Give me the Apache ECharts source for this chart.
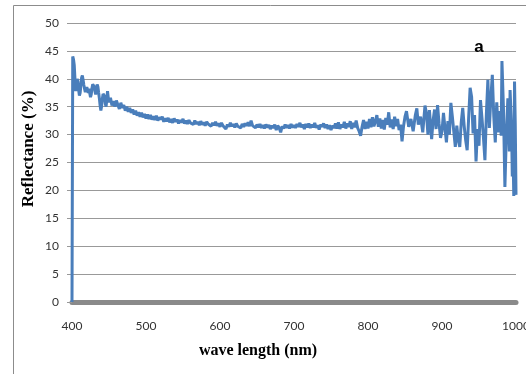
<!DOCTYPE html>
<html>
<head>
<meta charset="utf-8">
<script src="https://cdn.jsdelivr.net/npm/echarts@6/dist/echarts.min.js"></script>
<style>html,body{margin:0;padding:0;background:#fff;}#c{width:526px;height:374px;}</style>
</head>
<body>
<div id="c"></div>
<script>
var yTicks = [0, 5, 10, 15, 20, 25, 30, 35, 40, 45, 50];
var xTicks = [400, 500, 600, 700, 800, 900, 1000];
var xTitle = 'wave length (nm)';
var yTitle = 'Reflectance (%)';
var panelLabel = 'a';

// 400-449 nm, 1 nm steps
var wavelengthA = [
400,401,402,403,404,405,406,407,408,409,
410,411,412,413,414,415,416,417,418,419,
420,421,422,423,424,425,426,427,428,429,
430,431,432,433,434,435,436,437,438,439,
440,441,442,443,444,445,446,447,448,449
];
var reflectanceA = [
0,44,43.5,42.5,40,37.8,38.5,40,39.5,38,
37,37.5,38.8,40.2,40.6,39.8,38.9,38.2,37.6,37.8,
38.5,38.2,37.5,38.2,37.4,36.7,37.2,38.3,39,39.3,
38.6,37.8,37.2,38.1,39,38.6,37.5,36.5,35.2,34.3,
35.1,36.4,37.3,37.6,36.9,35.6,35,36.2,37.8,36.6
];

// 450-850 nm, 2 nm steps
var wavelengthB = [
450,452,454,456,458,460,462,464,466,468,470,472,474,476,478,480,482,484,486,488,490,492,494,496,498,500,
502,504,506,508,510,512,514,516,518,520,522,524,526,528,530,532,534,536,538,540,542,544,546,548,550,
552,554,556,558,560,562,564,566,568,570,572,574,576,578,580,582,584,586,588,590,592,594,596,598,600,
602,604,606,608,610,612,614,616,618,620,622,624,626,628,630,632,634,636,638,640,642,644,646,648,650,
652,654,656,658,660,662,664,666,668,670,672,674,676,678,680,682,684,686,688,690,692,694,696,698,700,
702,704,706,708,710,712,714,716,718,720,722,724,726,728,730,732,734,736,738,740,742,744,746,748,750,
752,754,756,758,760,762,764,766,768,770,772,774,776,778,780,782,784,786,788,790,792,794,796,798,800,
802,804,806,808,810,812,814,816,818,820,822,824,826,828,830,832,834,836,838,840,842,844,846,848,850
];
var reflectanceB = [
35.8,36.6,35.2,36.0,35.0,36.1,35.3,34.6,35.7,34.8,35.3,34.3,35.0,34.1,34.8,33.9,34.5,33.6,34.3,33.4,34.0,33.2,33.9,33.1,33.7,32.9,
33.6,32.8,33.5,32.7,33.3,32.6,33.4,32.5,33.1,32.7,33.2,32.3,32.9,32.4,33.0,32.2,32.8,32.1,32.9,32.3,32.7,32.0,32.6,32.2,32.8,
32.0,32.5,31.9,32.6,32.1,32.4,31.8,32.5,31.9,32.3,31.7,32.4,31.8,32.2,31.6,32.3,31.9,32.2,31.5,32.1,31.7,32.3,31.6,32.0,31.4,
32.1,31.6,31.9,31.0,31.8,31.4,32.1,31.5,31.9,31.3,32.0,31.5,31.8,31.2,31.9,31.4,32.0,31.6,32.2,31.5,32.5,31.6,31.9,31.2,31.8,
31.3,31.9,31.2,31.7,31.1,31.8,31.3,31.7,31.0,31.6,31.2,31.8,30.8,31.6,31.2,30.4,31.5,31.1,31.8,31.2,31.7,31.1,31.9,31.3,31.7,
31.2,31.9,31.4,32.1,31.3,31.8,31.0,31.9,31.3,32.0,31.2,31.8,31.3,32.1,31.2,31.7,30.9,31.8,31.4,32.0,31.2,31.8,31.0,31.7,30.8,
31.6,31.2,32.0,31.1,32.2,31.0,31.8,31.3,32.3,31.1,32.0,31.4,32.4,31.0,32.1,31.3,32.5,31.2,30.6,29.8,31.4,32.6,31.0,32.3,31.1,
32.8,31.3,33.1,31.5,32.4,33.5,31.4,32.9,31.1,32.6,30.9,33.0,31.8,34.0,31.3,32.7,31.0,33.2,31.5,32.8,30.8,31.8,28.8,31.5,33.2
];

// 852-1000 nm, noisy end
var wavelengthC = [
852,855,858,861,864,866,868,871,874,877,
879,881,883,886,888,890,892,894,896,898,
900,902,904,906,908,910,912,914,916,918,
920,922,924,926,928,930,932,934,936,938,
940,942,944,946,948,950,952,954,956,958,
960,962,964,966,968,970,972,974,976,978,
980,981,983,985,987,989,991,992,994,995,
996,997,998,999,1000
];
var reflectanceC = [
34.2,31.4,32.8,30.6,33.5,34.7,31.8,33.2,30.4,35.2,
33.8,30.0,34.4,29.2,32.6,34.5,31.0,35.3,32.0,29.4,
30.6,33.9,31.2,28.6,32.4,30.0,35.7,33.2,30.5,27.8,
31.6,29.0,27.8,32.2,34.8,31.5,29.0,27.2,33.0,38.4,
36.8,30.2,33.5,25.2,31.0,28.0,36.2,33.0,29.5,25.4,
33.8,39.8,31.2,36.5,40.7,33.2,28.6,35.8,30.4,34.2,
29.8,43.2,35.0,20.6,30.2,36.5,27.0,38.0,31.2,22.5,
26.7,19.0,39.5,32.0,19.2
];

var wavelength = wavelengthA.concat(wavelengthB, wavelengthC);
var reflectance = reflectanceA.concat(reflectanceB, reflectanceC);
var seriesData = wavelength.map(function (w, i) { return [w, reflectance[i]]; });

var chart = echarts.init(document.getElementById('c'), null, { renderer: 'canvas' });
chart.setOption({
  animation: false,
  backgroundColor: '#ffffff',
  grid: { left: 72, right: 10, top: 23, bottom: 72, containLabel: false, outerBoundsMode: 'none' },
  graphic: [
    {
      type: 'rect',
      shape: { x: 13.5, y: 5.5, width: 600, height: 500 },
      style: { fill: 'none', stroke: '#8c8c8c', lineWidth: 1 },
      silent: true, z: -1
    },
    {
      type: 'text',
      x: 479, y: 47,
      style: { text: panelLabel, fontFamily: '"Liberation Sans", Arial, sans-serif', fontWeight: 'bold', fontSize: 17, fill: '#000', align: 'center', verticalAlign: 'middle' },
      z: 10
    },
    {
      type: 'text',
      x: 258, y: 351,
      style: { text: xTitle, fontFamily: '"Liberation Serif", "DejaVu Serif", serif', fontWeight: 'bold', fontSize: 16, fill: '#000', align: 'center', verticalAlign: 'middle' },
      z: 10
    },
    {
      type: 'text',
      x: 28.5, y: 149,
      rotation: Math.PI / 2,
      style: { text: yTitle, fontFamily: '"Liberation Serif", "DejaVu Serif", serif', fontWeight: 'bold', fontSize: 17, fill: '#000', align: 'center', verticalAlign: 'middle' },
      z: 10
    }
  ],
  xAxis: {
    type: 'value',
    min: 400, max: 1000, interval: 100,
    axisLine: { show: true, lineStyle: { color: '#8a8a8a', width: 5 } },
    axisTick: { show: false },
    splitLine: { show: false },
    axisLabel: {
      margin: 18,
      fontFamily: 'Lato, "Open Sans", sans-serif',
      fontSize: 12, color: '#333',
      formatter: function (v) { return xTicks.indexOf(v) >= 0 ? String(v) : ''; }
    }
  },
  yAxis: {
    type: 'value',
    min: 0, max: 50, interval: 5,
    axisLine: { show: false },
    axisTick: { show: true, length: 5, lineStyle: { color: '#999', width: 1 } },
    splitLine: { show: true, lineStyle: { color: '#999', width: 1 } },
    axisLabel: {
      margin: 13,
      fontFamily: 'Lato, "Open Sans", sans-serif',
      fontSize: 12, color: '#333',
      formatter: function (v) { return yTicks.indexOf(v) >= 0 ? String(v) : ''; }
    }
  },
  series: [{
    type: 'line',
    data: seriesData,
    showSymbol: false,
    symbol: 'none',
    lineStyle: { color: '#4a7ebb', width: 3 },
    clip: false,
    z: 3
  }]
});
</script>
</body>
</html>
